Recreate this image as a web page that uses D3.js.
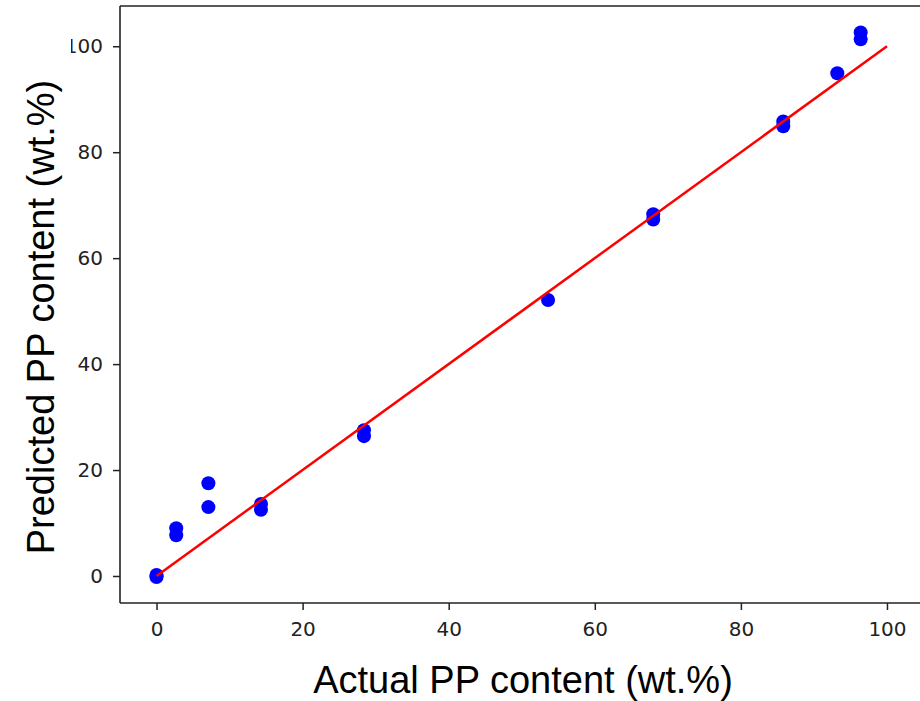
<!DOCTYPE html>
<html>
<head>
<meta charset="utf-8">
<script src="https://cdn.jsdelivr.net/npm/d3@7"></script>
<style>
  html, body { margin: 0; padding: 0; background: #fff; }
  svg { display: block; }
</style>
</head>
<body>
<svg id="chart" width="920" height="701"></svg>
<script>
// ---- data ----
const actual    = [0, 0, 0, 2.7, 2.7, 7.1, 7.1, 14.3, 14.3, 28.4, 28.4, 53.6, 68.0, 68.0, 85.8, 85.8, 93.2, 96.4, 96.4];
const predicted = [0.2, -0.2, 0.0, 9.0, 7.7, 17.5, 13.0, 13.6, 12.5, 27.5, 26.4, 52.1, 68.3, 67.3, 85.8, 84.9, 94.9, 102.6, 101.3];
const idealX = [0, 100];
const idealY = [0, 100];
const xTicks = [0, 20, 40, 60, 80, 100];
const yTicks = [0, 20, 40, 60, 80, 100];
const xLabel = "Actual PP content (wt.%)";
const yLabel = "Predicted PP content (wt.%)";

// ---- layout ----
const svg = d3.select("#chart");
const mLeft = 120, mRight = 923.5, mTop = 6, mBottom = 603;

const x = d3.scaleLinear().domain([-5, 105]).range([mLeft, mRight]);
const y = d3.scaleLinear().domain([-5.1, 107.6]).range([mBottom, mTop]);

svg.append("rect").attr("width", 920).attr("height", 701).attr("fill", "#fff");

// axes
const tickFont = "DejaVu Sans, sans-serif";
const xAxis = svg.append("g")
  .attr("transform", `translate(0,${mBottom})`)
  .call(d3.axisBottom(x).tickValues(xTicks).tickSize(7).tickPadding(12).tickSizeOuter(0));
const yAxis = svg.append("g")
  .attr("transform", `translate(${mLeft},0)`)
  .call(d3.axisLeft(y).tickValues(yTicks).tickSize(7).tickPadding(10).tickSizeOuter(0));

[xAxis, yAxis].forEach(g => {
  g.select(".domain").remove();
  g.selectAll(".tick line").attr("stroke", "#222").attr("stroke-width", 1.5);
  g.selectAll(".tick text")
    .attr("fill", "#222")
    .style("font-family", tickFont)
    .style("font-size", "20px");
});
xAxis.selectAll(".tick text").attr("dy", "0.71em");

// spines
const spine = svg.append("g").attr("stroke", "#222").attr("stroke-width", 1.6).attr("fill", "none");
spine.append("line").attr("x1", mLeft).attr("x2", mLeft).attr("y1", mTop).attr("y2", mBottom);
spine.append("line").attr("x1", mLeft).attr("x2", mRight).attr("y1", mTop).attr("y2", mTop);
spine.append("line").attr("x1", mLeft).attr("x2", mRight).attr("y1", mBottom).attr("y2", mBottom);
spine.append("line").attr("x1", mRight).attr("x2", mRight).attr("y1", mTop).attr("y2", mBottom);

// points
svg.append("g").selectAll("circle")
  .data(actual.map((a, i) => [a, predicted[i]]))
  .join("circle")
  .attr("cx", d => x(d[0]))
  .attr("cy", d => y(d[1]))
  .attr("r", 7)
  .attr("fill", "#0000ff");

// ideal line
svg.append("path")
  .datum(idealX.map((v, i) => [v, idealY[i]]))
  .attr("d", d3.line().x(d => x(d[0])).y(d => y(d[1])))
  .attr("stroke", "#ff0000")
  .attr("stroke-width", 2.5)
  .attr("fill", "none");

// y-label panel (white background covering the left edge, as in the reference)
svg.append("rect").attr("x", 0).attr("y", 0).attr("width", 71).attr("height", 701).attr("fill", "#fff");

const labelFont = "Liberation Sans, Arial, sans-serif";
svg.append("text")
  .attr("x", 523).attr("y", 693)
  .attr("text-anchor", "middle")
  .style("font-family", labelFont)
  .style("font-size", "38px")
  .attr("fill", "#000")
  .text(xLabel);

svg.append("text")
  .attr("transform", "translate(54,317) rotate(-90)")
  .attr("text-anchor", "middle")
  .style("font-family", labelFont)
  .style("font-size", "38px")
  .attr("fill", "#000")
  .text(yLabel);
</script>
</body>
</html>
